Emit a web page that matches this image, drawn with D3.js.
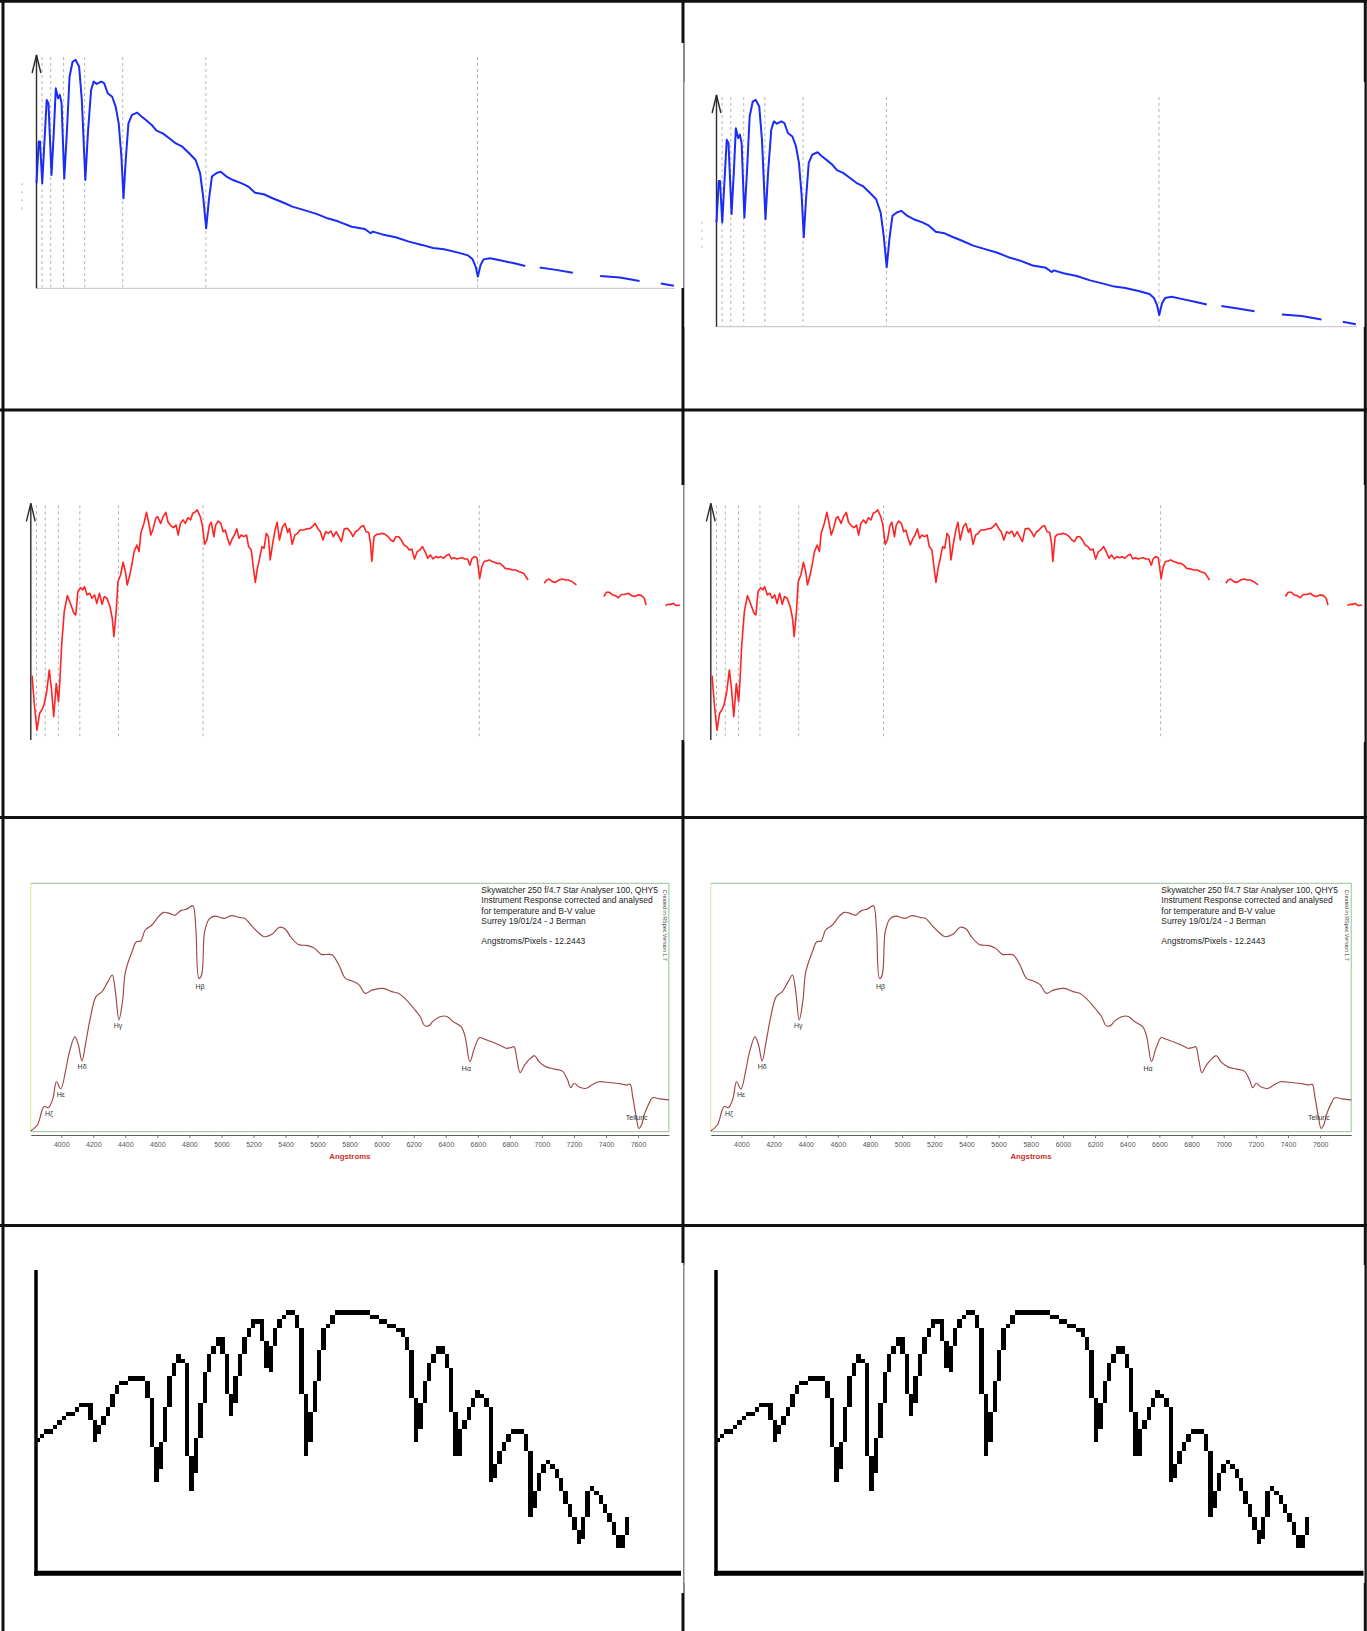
<!DOCTYPE html>
<html>
<head>
<meta charset="utf-8">
<script src="https://cdn.jsdelivr.net/npm/d3@7"></script>
<style>
  body { margin: 0; background: #fff; }
  svg { display: block; }
  .rspec text { font-family: "Liberation Sans", Arial, sans-serif; }
</style>
</head>
<body>
<svg id="chart" width="1367" height="1631"></svg>
<script>
// ---- data ----
// Balmer line positions (Angstrom) marked by the dashed guides
const balmerWaves = [3835, 3889, 3970, 4102, 4340, 4861, 6563];

// row 1: reference spectrum (blue), relative flux 0..1, null = telluric gap
const blueWave = [3800,3814,3822,3836,3847,3864,3875,3894,3908,3921,
  3935,3946,3957,3974,3990,4007,4026,4045,4067,4084,
  4106,4122,4142,4158,4177,4205,4224,4246,4274,4296,
  4315,4332,4345,4359,4376,4398,4431,4458,4489,4522,
  4552,4591,4632,4673,4714,4756,4797,4825,4844,4863,
  4880,4899,4926,4954,4990,5031,5086,5127,5169,5224,
  5279,5334,5403,5472,5554,5623,5692,5775,5857,5893,
  5907,5967,6050,6133,6215,6284,6353,6436,6504,6532,
  6551,6565,6582,6601,6642,6711,6794,6862,6908,6953,
  7055,7160,7245,7331,7455,7578,7645,7711,7793];
const blueFlux = [.450,.629,.629,.450,.593,.807,.793,.486,.664,.857,
  .814,.829,.793,.471,.664,.907,.971,.979,.950,.807,
  .464,.664,.850,.886,.876,.886,.879,.836,.821,.779,
  .707,.564,.386,.550,.707,.743,.753,.736,.719,.700,
  .676,.664,.643,.621,.607,.579,.550,.493,.393,.257,
  .379,.479,.493,.500,.479,.464,.450,.436,.410,.403,
  .386,.371,.350,.336,.319,.300,.286,.264,.254,.236,
  .243,.231,.219,.200,.186,.173,.167,.154,.141,.124,
  .093,.050,.100,.124,.129,.119,.107,.096,null,.089,
  .079,.067,null,.053,.046,.031,null,.021,.011];

// row 2: observed spectrum (red), flux 0..100
const redWave = [3808,3822,3838,3854,3868,3881,3898,3914,3927,3941,
  3957,3971,3979,3990,4006,4025,4044,4066,4077,4090,
  4106,4120,4131,4147,4163,4177,4193,4207,4223,4239,
  4253,4269,4288,4302,4312,4326,4337,4353,4369,4383,
  4394,4410,4424,4437,4453,4467,4478,4497,4513,4527,
  4540,4554,4570,4581,4600,4616,4632,4646,4662,4679,
  4695,4708,4722,4738,4752,4768,4784,4798,4811,4825,
  4844,4857,4871,4885,4901,4912,4928,4939,4955,4971,
  4985,4998,5012,5026,5042,5055,5069,5083,5096,5112,
  5129,5142,5158,5172,5183,5196,5210,5224,5237,5251,
  5264,5275,5289,5305,5318,5332,5351,5367,5383,5394,
  5411,5427,5443,5459,5481,5503,5522,5541,5552,5568,
  5584,5600,5617,5633,5649,5665,5682,5698,5714,5731,
  5752,5769,5785,5801,5817,5834,5850,5866,5882,5893,
  5901,5915,5931,5947,5964,5983,6002,6018,6034,6050,
  6067,6083,6099,6116,6132,6148,6164,6181,6197,6213,
  6229,6246,6262,6278,6295,6311,6327,6343,6360,6376,
  6392,6408,6425,6441,6457,6473,6490,6506,6517,6533,
  6549,6566,6579,6593,6609,6625,6642,6658,6674,6690,
  6707,6723,6745,6766,6788,6810,6837,6850,6864,6914,
  6964,6978,6994,7013,7032,7054,7075,7094,7113,7135,
  7162,7246,7330,7347,7366,7384,7401,7420,7439,7460,
  7482,7501,7520,7542,7563,7580,7591,7650,7710,7726,
  7742,7759,7775,7799];
const redFlux = [27.2,14.8,4.2,11.3,12.7,14.8,20.4,29.6,21.8,9.9,
  23.9,16.2,24.6,40.1,54.2,61.0,57.7,53.5,52.8,62.7,
  64.4,63.4,64.8,61.3,62.0,59.9,61.3,57.7,62.0,57.3,
  60.6,59.9,56.3,51.4,43.7,54.2,66.9,69.7,75.1,71.1,
  65.5,69.7,74.6,79.6,82.4,79.6,87.3,91.5,96.2,91.5,
  86.6,89.4,93.7,94.4,91.5,94.4,96.2,92.0,90.6,89.7,
  90.8,86.6,91.5,93.0,91.5,93.9,93.0,95.8,96.2,97.2,
  94.4,90.8,82.7,84.5,90.8,92.0,85.9,90.8,92.5,91.5,
  88.0,88.7,85.2,82.4,85.2,86.6,89.2,85.2,86.6,85.9,
  86.6,81.7,80.3,72.5,66.6,72.5,76.8,81.7,81.0,87.3,
  85.9,76.1,82.4,88.7,92.0,84.5,90.1,91.5,87.7,89.4,
  82.7,86.6,87.3,88.7,88.7,89.2,89.4,90.6,91.5,89.4,
  88.0,84.5,88.0,87.3,88.3,85.9,88.0,85.9,83.8,89.2,
  89.4,88.0,85.9,88.0,88.7,90.1,90.6,88.0,87.7,83.1,
  75.4,85.9,86.9,86.9,87.3,86.9,85.9,84.5,83.8,85.9,
  85.9,84.5,82.4,81.7,80.3,80.7,76.5,79.6,80.3,81.7,
  79.6,76.8,78.2,76.5,77.5,77.0,77.5,76.8,77.9,78.5,
  76.5,77.0,76.5,76.8,77.0,76.5,76.5,73.9,76.5,77.5,
  77.0,68.3,73.2,75.4,75.6,76.1,75.4,75.1,74.6,74.6,
  73.7,72.5,72.3,71.8,71.8,71.1,70.4,69.0,67.6,null,
  66.2,67.6,68.0,66.9,66.6,67.6,68.0,67.6,67.6,66.9,
  65.5,null,60.6,62.4,62.4,61.3,61.0,60.1,61.5,61.5,
  62.0,61.0,60.6,61.3,61.0,59.9,57.0,null,56.8,57.3,
  57.3,57.7,56.8,57.0];

// row 3: RSpec instrument-response-corrected profile, relative flux 0..1
const rspecWave = [3810,3851,3893,3920,3948,3970,3997,4030,4049,4085,
  4107,4129,4154,4181,4217,4255,4291,4318,4338,4360,
  4382,4401,4442,4469,4497,4524,4566,4607,4640,4675,
  4711,4744,4785,4821,4840,4859,4876,4895,4923,4958,
  5019,5060,5115,5145,5184,5225,5266,5315,5362,5398,
  5431,5480,5541,5582,5623,5664,5692,5733,5774,5815,
  5856,5898,5939,6008,6062,6104,6145,6200,6241,6268,
  6296,6323,6365,6406,6447,6496,6521,6551,6579,6612,
  6639,6694,6735,6776,6804,6826,6845,6864,6892,6928,
  6955,6982,7024,7079,7128,7161,7180,7202,7230,7271,
  7312,7353,7408,7463,7504,7532,7551,7567,7587,7606,
  7622,7642,7669,7691,7738,7793];
const rspecFlux = [.003,.027,.101,.097,.134,.201,.172,.255,.315,.383,
  .349,.285,.362,.456,.544,.564,.604,.631,.564,.450,
  .523,.644,.725,.765,.768,.812,.832,.866,.883,.879,
  .872,.889,.897,.910,.819,.617,.631,.805,.856,.868,
  .859,.870,.862,.859,.832,.805,.785,.795,.823,.816,
  .785,.754,.749,.738,.714,.714,.711,.671,.617,.607,
  .593,.557,.570,.577,.564,.557,.537,.497,.463,.427,
  .427,.446,.463,.464,.443,.423,.383,.282,.336,.379,
  .373,.360,.349,.336,.338,.342,.289,.238,.268,.295,
  .306,.282,.262,.252,.244,.208,.177,.195,.181,.174,
  .188,.201,.199,.195,.191,.188,.191,.141,.067,.013,
  .027,.074,.114,.137,.132,.128];
const rspecTicks = [4000,4200,4400,4600,4800,5000,5200,5400,5600,5800,
  6000,6200,6400,6600,6800,7000,7200,7400,7600];
const lineLabels = ['H\u03B6','H\u03B5','H\u03B4','H\u03B3','H\u03B2','H\u03B1','Telluric'];
const lineLabelWave = [3924, 3998, 4130, 4354, 4866, 6529, 7592];
const lineLabelFlux = [0.073, 0.150, 0.264, 0.426, 0.583, 0.255, 0.056];
const notes = ['Skywatcher 250 f/4.7 Star Analyser 100, QHY5',
  'Instrument Response corrected and analysed',
  'for temperature and B-V value',
  'Surrey 19/01/24 - J Berman',
  '',
  'Angstroms/Pixels - 12.2443'];

// row 4: low-resolution bitmap profile (column, level)
const pixCol = [0.3,9.8,12.3,13.3,14.3,15.8,18.3,21.3,23.8,25.3,
  26.3,26.8,27.8,28.8,30.3,31.8,33.8,34.3,35.0,36.3,
  37.8,38.8,40.8,42.3,42.8,43.8,44.8,46.3,47.3,48.8,
  51.3,51.8,52.6,53.3,54.3,55.8,57.8,59.0,59.8,60.8,
  61.8,62.8,63.8,65.3,67.8,75.3,76.8,79.3,81.3,82.8,
  84.3,85.3,85.8,86.8,87.8,88.8,90.6,92.3,93.3,94.3,
  94.8,95.8,96.3,97.8,98.8,100.3,101.8,102.8,103.3,104.3,
  105.3,106.3,107.8,109.8,110.8,111.8,112.3,113.3,114.3,115.8,
  117.3,118.8,119.8,121.3,122.3,123.3,124.3,125.3,126.3,127.8,
  129.3,130.3,131.3,132.3,133.3,133.6];
const pixLevel = [29.5,38.4,38.4,29.5,33.0,36.0,41.7,44.3,44.3,41.7,
  35.6,20.5,26.5,33.3,43.2,48.5,47.3,33.3,18.6,27.3,
  42.4,48.5,53.0,53.0,44.7,36.4,41.7,47.7,51.5,56.8,
  56.8,47.0,46.2,49.2,54.5,58.0,59.1,58.0,53.0,27.3,
  31.8,40.9,47.3,55.3,59.1,59.1,57.6,56.8,56.4,54.5,
  52.3,49.2,29.5,35.6,41.7,46.2,51.1,51.1,47.7,44.7,
  27.3,26.5,31.8,35.6,38.6,40.5,39.0,34.8,20.5,22.7,
  26.5,29.2,31.7,31.7,29.5,24.2,12.5,15.9,22.0,24.8,
  23.9,19.7,16.7,13.6,10.6,7.2,8.3,18.2,18.9,16.7,
  14.4,12.5,10.2,6.1,5.7,12.1];

// ---- layout ----
const svg = d3.select('#chart');

const bluePanels = [{x0: 36.5, x1: 675, top: 55, base: 288.3}, {x0: 716.5, x1: 1357, top: 95, base: 326.7}];
const redPanels = [{x0: 30.8, x1: 680, top: 503.3, base: 740}, {x0: 710.8, x1: 1362, top: 503.3, base: 740}];
const rspecPanels = [{x0: 30.8, x1: 668.9, top: 883.3, base: 1131.7}, {x0: 710.8, x1: 1351.2, top: 883.3, base: 1131.7}];
const pixPanels = [{x0: 36, x1: 681, top: 1270, base: 1573.2}, {x0: 716, x1: 1363.5, top: 1270, base: 1573.2}];

// table grid
const grid = svg.append('g').attr('stroke', '#111');
[3, 683, 1365.3].forEach(x => grid.append('line')
  .attr('x1', x).attr('x2', x).attr('y1', 0).attr('y2', 1631).attr('stroke-width', 3));
[1.3, 410, 817.5, 1225.5].forEach(y => grid.append('line')
  .attr('x1', 0).attr('x2', 1367).attr('y1', y).attr('y2', y).attr('stroke-width', 3));

// the pasted images sit over the grid lines in places
const covers = [
  {x: 5, y: 43, w: 678.5, h: 245}, {x: 684.5, y: 82, w: 680, h: 245},
  {x: 5, y: 485, w: 678.5, h: 255}, {x: 684.5, y: 485, w: 680, h: 257},
  {x: 5, y: 1263, w: 678.5, h: 330}, {x: 684.5, y: 1265, w: 680, h: 318}
];
svg.append('g').selectAll('rect').data(covers).join('rect')
  .attr('x', d => d.x).attr('y', d => d.y).attr('width', d => d.w).attr('height', d => d.h)
  .attr('fill', '#fff');

function arrowAxis(g, x, top, base) {
  g.append('line').attr('x1', x).attr('x2', x).attr('y1', top).attr('y2', base)
    .attr('stroke', '#2a2a2a').attr('stroke-width', 1.4);
  g.append('path').attr('d', `M${x - 4.4},${top + 18}L${x},${top}L${x + 4.4},${top + 18}`)
    .attr('fill', 'none').attr('stroke', '#2a2a2a').attr('stroke-width', 1.4);
}

function guides(g, x, top, base) {
  g.append('g').selectAll('line').data(balmerWaves).join('line')
    .attr('x1', d => x(d)).attr('x2', d => x(d))
    .attr('y1', top + 2).attr('y2', base - 1)
    .attr('stroke', '#b4b4b4').attr('stroke-width', 1).attr('stroke-dasharray', '3,3');
}

// ---- row 1: blue ----
const blueData = blueWave.map((w, i) => ({w, f: blueFlux[i]}));
bluePanels.forEach(p => {
  const g = svg.append('g');
  const x = d3.scaleLinear().domain([3800, 7800]).range([p.x0, p.x1]);
  const y = d3.scaleLinear().domain([0, 1]).range([p.base, p.top]);
  g.append('line').attr('x1', p.x0).attr('x2', p.x1).attr('y1', p.base).attr('y2', p.base)
    .attr('stroke', '#c6bccb').attr('stroke-width', 1);
  guides(g, x, p.top, p.base);
  g.append('line').attr('x1', p.x0 - 14.5).attr('x2', p.x0 - 14.5)
    .attr('y1', p.base - 105).attr('y2', p.base - 76)
    .attr('stroke', '#999').attr('stroke-width', 0.8).attr('stroke-dasharray', '2,6');
  arrowAxis(g, p.x0, p.top, p.base);
  const line = d3.line().defined(d => d.f != null).x(d => x(d.w)).y(d => y(d.f));
  g.append('path').datum(blueData).attr('d', line)
    .attr('fill', 'none').attr('stroke', '#1a2cf5').attr('stroke-width', 2)
    .attr('stroke-linejoin', 'round');
});

// ---- row 2: red ----
const redData = redWave.map((w, i) => ({w, f: redFlux[i]}));
redPanels.forEach(p => {
  const g = svg.append('g');
  const x = d3.scaleLinear().domain([3800, 7800]).range([p.x0, p.x1]);
  const y = d3.scaleLinear().domain([0, 100]).range([p.base, p.top]);
  guides(g, x, p.top, p.base);
  arrowAxis(g, p.x0, p.top, p.base);
  const line = d3.line().defined(d => d.f != null).x(d => x(d.w)).y(d => y(d.f));
  g.append('path').datum(redData).attr('d', line)
    .attr('fill', 'none').attr('stroke', '#ff2323').attr('stroke-width', 1.6)
    .attr('stroke-linejoin', 'round');
});

// ---- row 3: RSpec profile ----
const rspecData = rspecWave.map((w, i) => ({w, f: rspecFlux[i]}));
rspecPanels.forEach(p => {
  const g = svg.append('g').attr('class', 'rspec');
  const x = d3.scaleLinear().domain([3810, 7793]).range([p.x0, p.x1]);
  const y = d3.scaleLinear().domain([0, 1]).range([p.base, p.top]);

  g.append('line').attr('x1', p.x0).attr('x2', p.x0).attr('y1', p.top).attr('y2', p.base)
    .attr('stroke', '#e4dc96').attr('stroke-width', 1);
  g.append('path').attr('d', `M${p.x0},${p.top}H${p.x1}V${p.base}H${p.x0}`)
    .attr('fill', 'none').attr('stroke', '#94c494').attr('stroke-width', 1);

  const axis = d3.axisBottom(x).tickValues(rspecTicks).tickSize(3).tickSizeOuter(0)
    .tickPadding(4.5).tickFormat(d3.format('d'));
  const ax = g.append('g').attr('transform', `translate(0,${p.base + 3.3})`).call(axis);
  ax.select('.domain').attr('stroke', '#5c5c5c');
  ax.selectAll('.tick line').attr('stroke', '#777');
  ax.selectAll('.tick text').attr('fill', '#555').style('font-size', '7px')
    .style('font-family', '"Liberation Sans", Arial, sans-serif');

  g.append('text').attr('x', (p.x0 + p.x1) / 2).attr('y', p.base + 26.8)
    .attr('text-anchor', 'middle').attr('fill', '#c8302c')
    .style('font-size', '7.8px').style('font-weight', 'bold').text('Angstroms');

  const line = d3.line().curve(d3.curveCatmullRom.alpha(0.5)).x(d => x(d.w)).y(d => y(d.f));
  g.append('path').datum(rspecData).attr('d', line)
    .attr('fill', 'none').attr('stroke', '#9e4646').attr('stroke-width', 1.15)
    .attr('stroke-linejoin', 'round');

  g.append('g').selectAll('text').data(lineLabels).join('text')
    .attr('x', (d, i) => x(lineLabelWave[i]))
    .attr('y', (d, i) => y(lineLabelFlux[i]))
    .attr('text-anchor', 'middle').attr('dominant-baseline', 'central')
    .attr('fill', '#333').style('font-size', '7px').text(d => d);

  g.append('g').selectAll('text').data(notes).join('text')
    .attr('x', p.x0 + 450.5)
    .attr('y', (d, i) => p.top + 9.8 + i * 10.2)
    .attr('fill', '#222').style('font-size', '8.5px').text(d => d);

  g.append('text')
    .attr('transform', `translate(${p.x1 - 6.3},${p.top + 6.5}) rotate(90)`)
    .attr('fill', '#444').style('font-size', '5.4px').text('Created in RSpec Version 1.7');
});

// ---- row 4: pixelated profile ----
function bresenham(pts) {
  const cells = new Map();
  for (let i = 1; i < pts.length; i++) {
    let [cx, cy] = pts[i - 1];
    const [tx, ty] = pts[i];
    const dx = Math.abs(tx - cx), dy = -Math.abs(ty - cy);
    const sx = cx < tx ? 1 : -1, sy = cy < ty ? 1 : -1;
    let err = dx + dy;
    while (true) {
      cells.set(cx + ',' + cy, [cx, cy]);
      if (cx === tx && cy === ty) break;
      const e2 = 2 * err;
      if (e2 >= dy) { err += dy; cx += sx; }
      if (e2 <= dx) { err += dx; cy += sy; }
    }
  }
  return [...cells.values()];
}
const pixPoints = pixCol.map((c, i) => [Math.round(c), Math.round(pixLevel[i])]);
const pixCells = bresenham(pixPoints);

pixPanels.forEach(p => {
  const g = svg.append('g');
  const cell = 4.4;
  const x = d3.scaleLinear().domain([0, 147]).range([p.x0 - 0.6, p.x0 - 0.6 + 147 * cell]);
  const y = d3.scaleLinear().domain([0, 68]).range([1570, 1570 - 68 * cell]);
  g.append('g').attr('shape-rendering', 'crispEdges')
    .selectAll('rect').data(pixCells).join('rect')
    .attr('x', d => x(d[0])).attr('y', d => y(d[1]))
    .attr('width', x(1) - x(0)).attr('height', y(0) - y(1))
    .attr('fill', '#000');
  g.append('line').attr('x1', p.x0).attr('x2', p.x0).attr('y1', p.top).attr('y2', p.base + 2.5)
    .attr('stroke', '#000').attr('stroke-width', 3.5);
  g.append('line').attr('x1', p.x0 - 1.7).attr('x2', p.x1).attr('y1', p.base).attr('y2', p.base)
    .attr('stroke', '#000').attr('stroke-width', 5);
});
</script>
</body>
</html>
